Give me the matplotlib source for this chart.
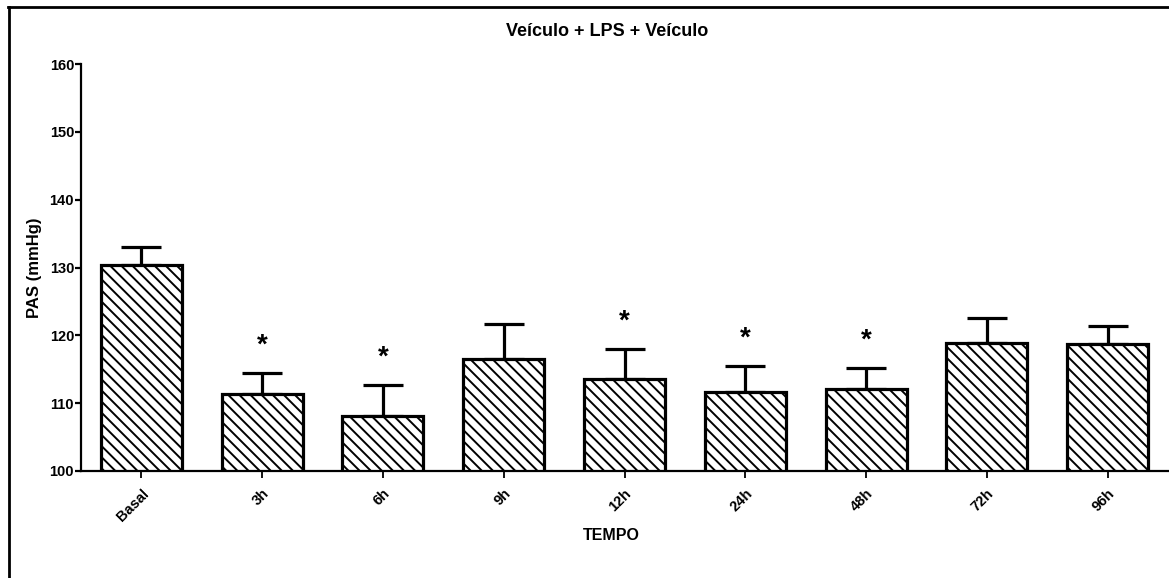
import matplotlib
matplotlib.use("Agg")
import matplotlib.pyplot as plt
from matplotlib.lines import Line2D
import numpy as np

categories = ["Basal", "3h", "6h", "9h", "12h", "24h", "48h", "72h", "96h"]
means = [130.4, 111.4, 108.1, 116.5, 113.6, 111.7, 112.1, 118.9, 118.7]
sems = [2.6, 3.1, 4.6, 5.1, 4.4, 3.8, 3.1, 3.7, 2.7]
significant = [False, True, True, False, True, True, True, False, False]

title = "Veículo + LPS + Veículo"
ylabel = "PAS (mmHg)"
xlabel = "TEMPO"
yticks = [100, 110, 120, 130, 140, 150, 160]

plt.rcParams['font.family'] = ['Liberation Sans', 'DejaVu Sans']
plt.rcParams['hatch.linewidth'] = 1.4

W, H = 1169, 578
fig = plt.figure(figsize=(W / 100, H / 100), dpi=100)
ax = fig.add_axes([81 / W, 1 - 471 / H, (1168 - 81) / W, (471 - 64) / H])

x = np.arange(len(categories))
ax.bar(x, means, width=0.67, bottom=0, color='white', edgecolor='black',
       linewidth=2.3, hatch='\\\\\\', zorder=2)
ax.errorbar(x, means, yerr=[np.zeros(len(sems)), sems], fmt='none',
            ecolor='black', elinewidth=2.3, capsize=14.5, capthick=2.3, zorder=1)

for xi, m, s, sig in zip(x, means, sems, significant):
    if sig:
        ax.annotate("*", (xi, m + s), xytext=(0, 10), textcoords='offset points',
                    ha='center', va='bottom', fontsize=20, fontweight='bold')

ax.set_xlim(-0.5, 8.5)
ax.set_ylim(100, 160)
ax.set_yticks(yticks)
ax.set_xticks(x)
ax.set_xticklabels(categories, rotation=45, ha='right', va='top',
                   rotation_mode='anchor', fontsize=10.5, fontweight='bold')
for lab in ax.get_yticklabels():
    lab.set_fontweight('bold')
    lab.set_fontsize(10.5)

for s in ['top', 'right']:
    ax.spines[s].set_visible(False)
for s in ['left', 'bottom']:
    ax.spines[s].set_linewidth(1.6)
ax.tick_params(axis='y', direction='out', length=4, width=1.6, pad=1)
ax.tick_params(axis='x', direction='out', length=5, width=1.3, pad=6)

fig.text(607 / W, 1 - 32 / H, title, ha='center', va='center',
         fontsize=13, fontweight='bold')
fig.text(34 / W, 1 - 268 / H, ylabel, ha='center', va='center', rotation=90,
         fontsize=12, fontweight='bold')
fig.text(611 / W, 1 - 535 / H, xlabel, ha='center', va='center',
         fontsize=11.5, fontweight='bold')

# outer frame (left and top)
fig.add_artist(Line2D([8.5 / W, 8.5 / W], [0, 1 - 7 / H], transform=fig.transFigure,
                      color='black', linewidth=2))
fig.add_artist(Line2D([7.5 / W, 1], [1 - 7 / H, 1 - 7 / H], transform=fig.transFigure,
                      color='black', linewidth=2))

fig.savefig("out.png", dpi=100)
